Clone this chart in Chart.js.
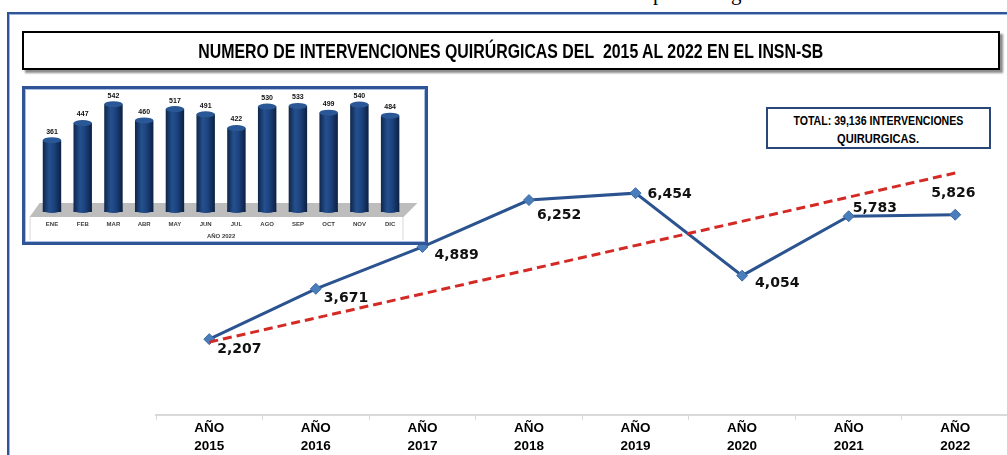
<!DOCTYPE html>
<html lang="es">
<head>
<meta charset="utf-8">
<title>Intervenciones quirúrgicas INSN-SB</title>
<script src="https://cdn.jsdelivr.net/npm/chart.js@4.4.1/dist/chart.umd.min.js"></script>
<style>
  html, body { margin: 0; padding: 0; background: #fff; width: 1007px; height: 455px; overflow: hidden; }
  body { position: relative; font-family: "Liberation Sans", Arial, sans-serif; }
  .frame {
    position: absolute; left: 7px; top: 12px; width: 1020px; height: 470px;
    border-top: 2px solid #2F5597; border-left: 2px solid #2F5597;
    box-shadow: inset 1px 1px 0 #9CB3DA;
  }
  .cut { position: absolute; top: -17px; font: 21px "Liberation Serif", serif; line-height: 21px; color: #000; }
  #chart-main { position: absolute; left: 0; top: 0; }
  .title-box {
    position: absolute; left: 22px; top: 31px; width: 978px; height: 39px; box-sizing: border-box;
    border: 2px solid #000; background: #fff; box-shadow: 3px 3px 2px #8c8c8c;
    text-align: center; line-height: 36px; white-space: nowrap;
  }
  .title-box span { display: inline-block; font-weight: bold; font-size: 19.5px; color: #000; }
  .inset {
    position: absolute; left: 22px; top: 86px; width: 406px; height: 159px; box-sizing: border-box;
    border: 3px solid #2F5597; background: #fff; box-shadow: inset 0 0 0 1px #A9BEE0;
  }
  #chart-inset { position: absolute; left: 0; top: 0; }
  .total-box {
    position: absolute; left: 766px; top: 107px; width: 225px; height: 42px; box-sizing: border-box;
    border: 2px solid #2B4778; background: #fff; text-align: center; padding-top: 2px;
  }
  .total-box div { line-height: 17px; white-space: nowrap; }
  .total-box span { display: inline-block; font-weight: bold; font-size: 13px; color: #000; }
</style>
</head>
<body>
<div class="frame"></div>
<span class="cut" style="left:653px">p</span>
<span class="cut" style="left:731px">g</span>

<canvas id="chart-main" width="1015" height="455"></canvas>

<div class="title-box"><span id="title-text">NUMERO DE INTERVENCIONES QUIRÚRGICAS DEL&nbsp; 2015 AL 2022 EN EL INSN-SB</span></div>

<div class="inset"><canvas id="chart-inset" width="400" height="153"></canvas></div>

<div class="total-box">
  <div><span id="total-1">TOTAL: 39,136 INTERVENCIONES</span></div>
  <div><span id="total-2">QUIRURGICAS.</span></div>
</div>

<script>
const years = ["2015", "2016", "2017", "2018", "2019", "2020", "2021", "2022"];
const surgeries = [2207, 3671, 4889, 6252, 6454, 4054, 5783, 5826];
const trendEnds = [2120, null, null, null, null, null, null, 7040];

const months = ["ENE", "FEB", "MAR", "ABR", "MAY", "JUN", "JUL", "AGO", "SEP", "OCT", "NOV", "DIC"];
const monthly2022 = [361, 447, 542, 460, 517, 491, 422, 530, 533, 499, 540, 484];

// where each value label sits relative to its point (px)
const labelNudge = [[8, 10], [8, 10], [12, 8], [8, 15], [12, 1], [13, 8], [4, -8], [-24, -21]];

function el(id) {
  return document.getElementById(id);
}

// squeeze text horizontally so it looks like the narrow Calibri of the original
function fitWidth(id, width) {
  const s = el(id);
  s.style.transform = `scaleX(${width / s.getBoundingClientRect().width})`;
}

const pointLabels = {
  id: "pointLabels",
  afterDatasetsDraw(chart) {
    const meta = chart.getDatasetMeta(1);
    const ctx = chart.ctx;
    ctx.save();
    ctx.font = "bold 14px 'DejaVu Sans', Verdana, sans-serif";
    ctx.fillStyle = "#111";
    ctx.textAlign = "left";
    ctx.textBaseline = "middle";
    meta.data.forEach((pt, i) => {
      const [dx, dy] = labelNudge[i];
      ctx.fillText(surgeries[i].toLocaleString("en-US"), pt.x + dx, pt.y + dy);
    });
    ctx.restore();
  },
};

function cylGradient(ctx, x, rx) {
  if (!isFinite(x) || !isFinite(rx) || rx <= 0) return "#1C3F77";
  const g = ctx.createLinearGradient(x - rx, 0, x + rx, 0);
  g.addColorStop(0, "#0F2649");
  g.addColorStop(0.35, "#24508F");
  g.addColorStop(0.6, "#1D4480");
  g.addColorStop(1, "#0C2042");
  return g;
}

const cylinders = {
  id: "cylinders",
  beforeDatasetsDraw(chart) {
    const { ctx, chartArea: a } = chart;
    ctx.save();
    ctx.fillStyle = "#BDBDBD";
    ctx.beginPath();
    ctx.moveTo(a.left - 7, a.bottom + 5);
    ctx.lineTo(a.left + 3, a.bottom - 9);
    ctx.lineTo(a.right + 12, a.bottom - 9);
    ctx.lineTo(a.right - 2, a.bottom + 5);
    ctx.closePath();
    ctx.fill();
    ctx.strokeStyle = "#D9D9D9";
    ctx.lineWidth = 1;
    ctx.beginPath();
    ctx.moveTo(a.left - 6.5, a.bottom + 5);
    ctx.lineTo(a.left - 6.5, chart.height - 2);
    ctx.moveTo(a.right - 2.5, a.bottom + 5);
    ctx.lineTo(a.right - 2.5, chart.height - 2);
    ctx.stroke();
    ctx.restore();
  },
  afterDatasetsDraw(chart) {
    const ctx = chart.ctx;
    const meta = chart.getDatasetMeta(0);
    ctx.save();
    meta.data.forEach((bar, i) => {
      const rx = bar.width / 2;
      ctx.fillStyle = cylGradient(ctx, bar.x, rx);
      ctx.beginPath();
      ctx.ellipse(bar.x, bar.base - 2, rx, 3, 0, 0, Math.PI);
      ctx.fill();
      ctx.fillStyle = "#2A5795";
      ctx.beginPath();
      ctx.ellipse(bar.x, bar.y, rx, 3, 0, 0, Math.PI * 2);
      ctx.fill();
      ctx.fillStyle = "#111";
      ctx.font = "bold 7px 'Liberation Sans', Arial, sans-serif";
      ctx.textAlign = "center";
      ctx.textBaseline = "bottom";
      ctx.fillText(String(monthly2022[i]), bar.x, bar.y - 5);
    });
    ctx.restore();
  },
};

function initMain() {
  new Chart(el("chart-main").getContext("2d"), {
    type: "line",
    data: {
      labels: years.map((y) => ["AÑO", y]),
      datasets: [
        {
          label: "Tendencia",
          data: trendEnds,
          borderColor: "#D42A26",
          borderWidth: 3,
          borderDash: [9, 5],
          pointRadius: 0,
          spanGaps: true,
          fill: false,
        },
        {
          label: "Intervenciones",
          data: surgeries,
          borderColor: "#2B5390",
          borderWidth: 3,
          pointStyle: "rectRot",
          pointRadius: 5.5,
          pointBackgroundColor: "#4A7EBB",
          pointBorderColor: "#3A6BA8",
          pointBorderWidth: 1,
          tension: 0,
          fill: false,
        },
      ],
    },
    options: {
      responsive: false,
      animation: false,
      layout: { padding: { top: 140, left: 156, right: 3, bottom: 0 } },
      plugins: { legend: { display: false }, tooltip: { enabled: false } },
      scales: {
        x: {
          offset: true,
          grid: { offset: true, drawOnChartArea: false, drawTicks: true, tickLength: 5, color: "#D9D9D9" },
          border: { display: true, color: "#D9D9D9", width: 2 },
          ticks: {
            color: "#000",
            padding: 0,
            maxRotation: 0,
            autoSkip: false,
            font: { family: "'Liberation Sans', Arial, sans-serif", weight: "bold", size: 13.5, lineHeight: 1.3 },
          },
          afterFit(s) {
            s.height = 40;
          },
        },
        y: { display: false, min: 0, max: 8000 },
      },
    },
    plugins: [pointLabels],
  });
}

function initInset() {
  new Chart(el("chart-inset").getContext("2d"), {
    type: "bar",
    data: {
      labels: months,
      datasets: [
        {
          label: "Año 2022",
          data: monthly2022,
          barPercentage: 0.6,
          categoryPercentage: 1,
          backgroundColor(c) {
            const sx = c.chart.scales.x;
            if (!sx) return "#1C3F77";
            const x = sx.getPixelForValue(c.dataIndex);
            const rx = ((sx.width / months.length) * 0.6) / 2;
            return cylGradient(c.chart.ctx, x, rx);
          },
        },
      ],
    },
    options: {
      responsive: false,
      animation: false,
      layout: { padding: { left: 11.6, right: 19.5, top: 3.6, bottom: 0 } },
      plugins: { legend: { display: false }, tooltip: { enabled: false } },
      scales: {
        x: {
          offset: true,
          grid: { display: false, drawTicks: false },
          border: { display: false },
          ticks: {
            color: "#404040",
            padding: 9,
            maxRotation: 0,
            autoSkip: false,
            font: { family: "'Liberation Sans', Arial, sans-serif", weight: "bold", size: 6 },
          },
          title: {
            display: true,
            text: "AÑO 2022",
            color: "#404040",
            padding: { top: 0, bottom: 2 },
            font: { family: "'Liberation Sans', Arial, sans-serif", weight: "bold", size: 6 },
          },
          afterFit(s) {
            s.height = 30;
          },
        },
        y: { display: false, min: 0, max: 600 },
      },
    },
    plugins: [cylinders],
  });
}

function boot() {
  fitWidth("title-text", 625);
  fitWidth("total-1", 170);
  fitWidth("total-2", 82);
  initMain();
  initInset();
}

document.addEventListener("DOMContentLoaded", boot);
</script>
</body>
</html>
